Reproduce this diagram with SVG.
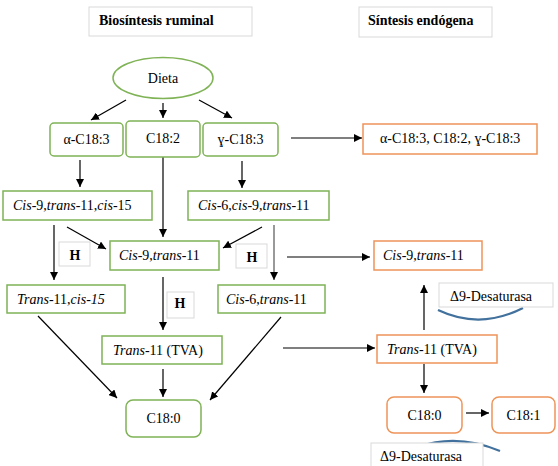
<svg xmlns="http://www.w3.org/2000/svg" width="558" height="466" viewBox="0 0 558 466">
<defs>
<marker id="ah" viewBox="0 0 10 10" refX="10" refY="5" markerWidth="8" markerHeight="8" markerUnits="userSpaceOnUse" orient="auto">
<path d="M0,0 L10,5 L0,10 z" fill="#000"/>
</marker>
<style>
text{font-family:"Liberation Serif","Times New Roman",serif;font-size:14px;fill:#000}
.t{font-weight:bold}
.i{font-style:italic}
.g{fill:#fff;stroke:#7fb356;stroke-width:1.5}
.o{fill:#fff;stroke:#ee9459;stroke-width:1.5}
.lb{fill:#fff;stroke:#d9d9d9;stroke-width:1}
.c{stroke:#000;stroke-width:1.2;fill:none;marker-end:url(#ah)}
.cl{stroke:#000;stroke-width:1.2;fill:none}
.arc{stroke:#41719c;stroke-width:2.2;fill:none}
.m{text-anchor:middle}
</style>
</defs>
<rect width="558" height="466" fill="#fff"/>

<g id="title-ruminal">
<rect class="lb" x="89" y="7" width="163" height="29"/>
<text class="t" x="99" y="25">Biosíntesis ruminal</text>
</g>
<g id="title-endogena">
<rect class="lb" x="359" y="7" width="133" height="30"/>
<text class="t" x="368" y="25">Síntesis endógena</text>
</g>

<g id="connectors">
<line class="c" x1="126" y1="100" x2="91" y2="120"/>
<line class="c" x1="163" y1="103" x2="163" y2="118"/>
<line class="c" x1="199" y1="100" x2="232" y2="118"/>
<line class="c" x1="291" y1="138" x2="362" y2="138"/>
<line class="c" x1="80" y1="160" x2="80" y2="187"/>
<line class="c" x1="242" y1="161" x2="242" y2="188"/>
<line class="c" x1="163" y1="157" x2="163" y2="237"/>
<line class="c" x1="67" y1="227" x2="106" y2="249"/>
<line class="c" x1="262" y1="227" x2="223" y2="248"/>
<line class="c" x1="54" y1="225" x2="54" y2="280"/>
<line class="c" x1="274" y1="225" x2="274" y2="280" style="stroke:#555"/>
<line class="c" x1="287" y1="257" x2="370" y2="257"/>
<line class="c" x1="163" y1="277" x2="163" y2="330"/>
<line class="c" x1="38" y1="316" x2="117" y2="398"/>
<line class="c" x1="281" y1="317" x2="210" y2="400"/>
<line class="c" x1="163" y1="369" x2="163" y2="397"/>
<line class="c" x1="283" y1="348" x2="375" y2="348"/>
<line class="c" x1="424" y1="330" x2="424" y2="285"/>
<line class="c" x1="424" y1="364" x2="424" y2="393"/>
<line class="c" x1="466" y1="413" x2="489" y2="413"/>
<path class="arc" d="M438,310 Q480,330 523,308"/>
<path class="arc" d="M418,447 Q457,433 500,451"/>
</g>

<g id="dieta">
<ellipse class="g" cx="163" cy="78" rx="50" ry="20.5"/>
<text class="m" x="163" y="83">Dieta</text>
</g>
<g id="alfa">
<rect class="g" x="50" y="123" width="73" height="33" rx="4"/>
<text class="m" x="86.5" y="144">α-C18:3</text>
</g>
<g id="c182">
<rect class="g" x="126" y="121" width="74" height="36" rx="4"/>
<text class="m" x="163" y="143">C18:2</text>
</g>
<g id="gamma">
<rect class="g" x="203" y="123" width="75" height="33" rx="4"/>
<text class="m" x="240.5" y="144">ɣ-C18:3</text>
</g>
<g id="endo-mix">
<rect class="o" x="363" y="124" width="174" height="30"/>
<text x="380" y="143">α-C18:3, C18:2, ɣ-C18:3</text>
</g>
<g id="c9t11c15">
<rect class="g" x="3" y="191" width="149" height="29"/>
<text x="13" y="210"><tspan class="i">Cis</tspan>-9,<tspan class="i">trans</tspan>-11,<tspan class="i">cis</tspan>-15</text>
</g>
<g id="c6c9t11">
<rect class="g" x="188" y="191" width="141" height="29"/>
<text x="198" y="210"><tspan class="i">Cis</tspan>-6,<tspan class="i">cis</tspan>-9,<tspan class="i">trans</tspan>-11</text>
</g>
<g id="c9t11">
<rect class="g" x="110" y="241" width="109" height="29"/>
<text x="119" y="260"><tspan class="i">Cis</tspan>-9,<tspan class="i">trans</tspan>-11</text>
</g>
<g id="c9t11-endo">
<rect class="o" x="374" y="241" width="108" height="29"/>
<text x="383" y="260"><tspan class="i">Cis</tspan>-9,<tspan class="i">trans</tspan>-11</text>
</g>
<g id="h1">
<rect class="lb" x="59" y="242" width="31" height="24"/>
<text class="t m" x="75" y="260">H</text>
</g>
<g id="h2">
<rect class="lb" x="236" y="244" width="31" height="24"/>
<text class="t m" x="252" y="262">H</text>
</g>
<g id="h3">
<rect class="lb" x="167" y="292" width="27" height="26"/>
<text class="t m" x="180" y="308">H</text>
</g>
<g id="t11c15">
<rect class="g" x="7" y="285" width="118" height="28"/>
<text x="17" y="304"><tspan class="i">Trans</tspan>-11,<tspan class="i">cis-15</tspan></text>
</g>
<g id="c6t11">
<rect class="g" x="218" y="285" width="107" height="28"/>
<text x="226" y="304"><tspan class="i">Cis</tspan>-6,<tspan class="i">trans</tspan>-11</text>
</g>
<g id="desat1">
<rect class="lb" x="439" y="283" width="114" height="24"/>
<text x="450" y="301">Δ9-Desaturasa</text>
</g>
<g id="tva">
<rect class="g" x="102" y="336" width="120" height="28"/>
<text x="113" y="355"><tspan class="i">Trans</tspan>-11 (TVA)</text>
</g>
<g id="tva-endo">
<rect class="o" x="377" y="335" width="120" height="28"/>
<text x="387" y="354"><tspan class="i">Trans</tspan>-11 (TVA)</text>
</g>
<g id="c180">
<rect class="g" x="126" y="400" width="75" height="37" rx="7"/>
<text class="m" x="163.5" y="423">C18:0</text>
</g>
<g id="c180-endo">
<rect class="o" x="387" y="397" width="75" height="36" rx="7"/>
<text class="m" x="424.5" y="420">C18:0</text>
</g>
<g id="c181">
<rect class="o" x="492" y="397" width="63" height="36" rx="7"/>
<text class="m" x="523.5" y="420">C18:1</text>
</g>
<g id="desat2">
<rect class="lb" x="371" y="443" width="112" height="30"/>
<text x="380" y="461">Δ9-Desaturasa</text>
</g>
</svg>
